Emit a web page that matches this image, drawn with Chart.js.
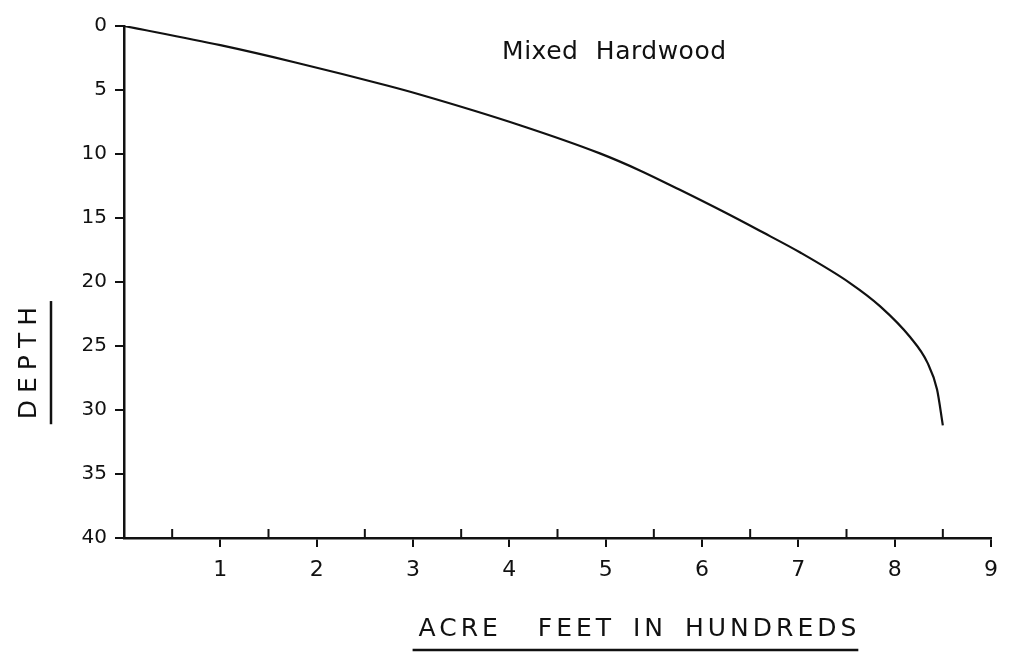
<!DOCTYPE html>
<html>
<head>
<meta charset="utf-8">
<script src="https://cdn.jsdelivr.net/npm/chart.js@4.4.1/dist/chart.umd.min.js"></script>
<style>
    html, body { margin: 0; padding: 0; background: #fff; }
    #wrap { width: 1013px; height: 659px; }
</style>
</head>
<body>
<div id="wrap"><canvas id="chart" width="1013" height="659"></canvas></div>
<script>
// Values (acre feet in hundreds vs depth)
const acreFeet = [0, 1.0, 1.78, 2.73, 3.07, 4.11, 4.94, 5.36, 5.77, 6.22, 6.60, 7.02, 7.54, 7.85, 8.16, 8.34, 8.44, 8.50];
const depth = [0, 1.5, 2.85, 4.65, 5.35, 7.75, 9.95, 11.3, 12.8, 14.5, 16.0, 17.7, 20.1, 21.9, 24.3, 26.3, 28.4, 31.2];

const minorTicks = [0.5, 1.5, 2.5, 3.5, 4.5, 5.5, 6.5, 7.5, 8.5];
const heading = 'Mixed Hardwood';
const xTitle = 'ACRE  FEET IN HUNDREDS';
const yTitle = 'DEPTH';

const INK = '#111';
const FONT = "'DejaVu Sans', sans-serif";

// Heading, axis titles with underlines and the upward half-unit ticks
const decorPlugin = {
    id: 'decor',
    afterDraw(chart) {
        const ctx = chart.ctx;
        const x = chart.scales.x;
        const y = chart.scales.y;
        const area = chart.chartArea;

        ctx.save();
        ctx.strokeStyle = INK;
        ctx.fillStyle = INK;

        // minor ticks pointing up from the x axis
        ctx.lineWidth = 2;
        minorTicks.forEach(v => {
            const px = x.getPixelForValue(v);
            ctx.beginPath();
            ctx.moveTo(px, area.bottom);
            ctx.lineTo(px, area.bottom - 9);
            ctx.stroke();
        });

        // heading inside the plot
        ctx.font = '25px ' + FONT;
        ctx.textAlign = 'center';
        ctx.textBaseline = 'middle';
        ctx.letterSpacing = '0.5px';
        ctx.wordSpacing = '9px';
        ctx.fillText(heading, x.getPixelForValue(5.09), y.getPixelForValue(2.1));

        // x title + underline
        ctx.font = '25px ' + FONT;
        ctx.letterSpacing = '4px';
        ctx.wordSpacing = '6px';
        const cx = x.getPixelForValue(5.33);
        ctx.fillText(xTitle, cx + 2, 629);
        const w = ctx.measureText(xTitle).width;
        ctx.lineWidth = 2.5;
        ctx.beginPath();
        ctx.moveTo(cx - w / 2 - 4, 650);
        ctx.lineTo(cx + w / 2, 650);
        ctx.stroke();

        // y title (rotated) + underline
        ctx.letterSpacing = '7px';
        ctx.wordSpacing = '0px';
        const cy = y.getPixelForValue(26.3);
        ctx.save();
        ctx.translate(29, cy);
        ctx.rotate(-Math.PI / 2);
        ctx.fillText(yTitle, 3, 0);
        const wy = ctx.measureText(yTitle).width;
        ctx.restore();
        ctx.beginPath();
        ctx.moveTo(51, cy - wy / 2 - 2);
        ctx.lineTo(51, cy + wy / 2 + 2);
        ctx.stroke();

        ctx.restore();
    }
};

Chart.defaults.font.family = FONT;
Chart.defaults.color = INK;

new Chart(document.getElementById('chart').getContext('2d'), {
    type: 'scatter',
    data: {
        datasets: [{
            data: acreFeet.map((v, i) => ({ x: v, y: depth[i] })),
            showLine: true,
            borderColor: INK,
            borderWidth: 2.2,
            pointRadius: 0,
            cubicInterpolationMode: 'monotone',
            fill: false
        }]
    },
    options: {
        responsive: false,
        animation: false,
        layout: {
            padding: { top: 26, right: 22, bottom: 0, left: 0 }
        },
        plugins: {
            legend: { display: false },
            tooltip: { enabled: false }
        },
        scales: {
            x: {
                type: 'linear',
                min: 0,
                max: 9,
                afterFit: s => { s.height = 121; },
                border: { color: INK, width: 2.5 },
                grid: {
                    drawOnChartArea: false,
                    drawTicks: true,
                    tickLength: 9,
                    lineWidth: 2,
                    color: c => (c.tick && c.tick.value === 0 ? 'rgba(0,0,0,0)' : INK)
                },
                ticks: {
                    stepSize: 1,
                    padding: 10,
                    maxRotation: 0,
                    font: { size: 22 },
                    callback: v => (v === 0 ? '' : v)
                }
            },
            y: {
                type: 'linear',
                reverse: true,
                min: 0,
                max: 40,
                afterFit: s => { s.width = 124; },
                border: { color: INK, width: 2.5 },
                grid: {
                    drawOnChartArea: false,
                    drawTicks: true,
                    tickLength: 9,
                    lineWidth: 2,
                    color: INK
                },
                ticks: {
                    stepSize: 5,
                    padding: 8,
                    font: { size: 20 }
                }
            }
        }
    },
    plugins: [decorPlugin]
});
</script>
</body>
</html>
